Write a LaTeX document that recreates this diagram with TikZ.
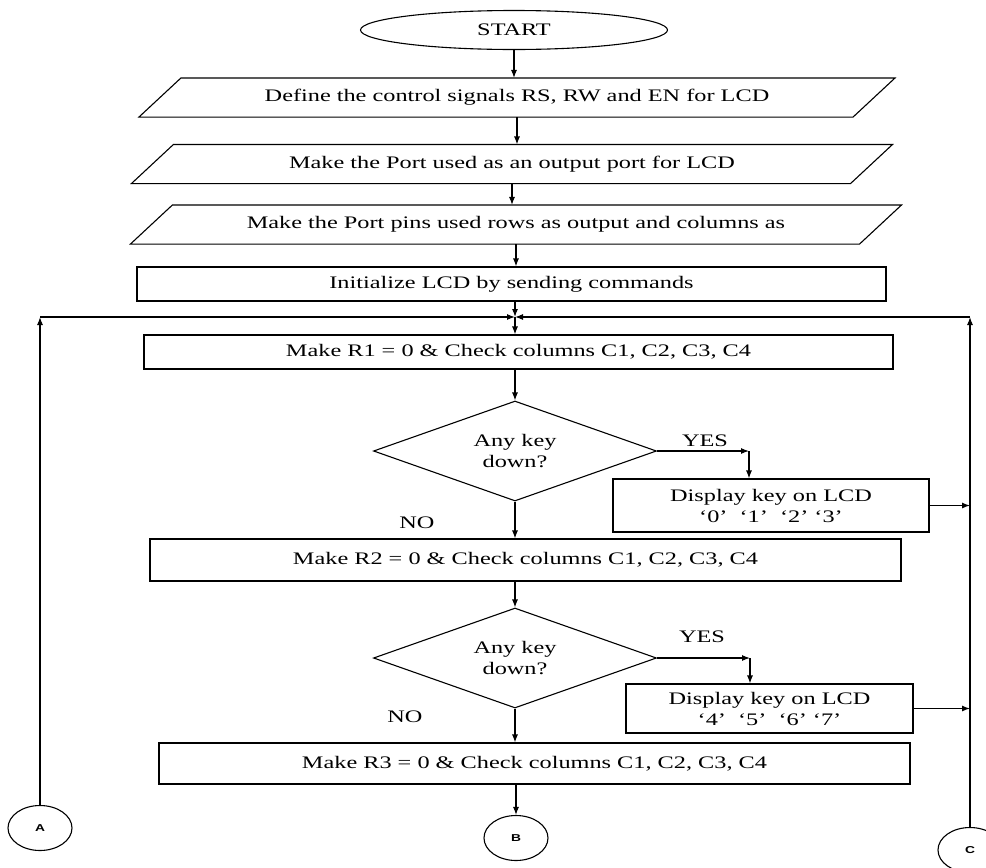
\documentclass[tikz,border=0pt]{standalone}
\usepackage{fontspec}
\setmainfont{Liberation Serif}[FakeStretch=1.38]
\newfontfamily\tagfont{Liberation Sans}[FakeStretch=1.38]
\usetikzlibrary{shapes.geometric,arrows.meta}
\begin{document}
\begin{tikzpicture}[x=1pt,y=-1pt,line width=1.1pt,font=\fontsize{17.6}{21}\selectfont]
	\tikzset{box/.style={draw,inner sep=0pt,align=center},
		io/.style={inner sep=0pt,minimum height=38pt},
		ask/.style={draw,diamond,inner sep=0pt,aspect=2.8,minimum width=283pt,minimum height=100pt,align=center},
		tag/.style={draw,ellipse,inner sep=0pt,minimum width=64pt,minimum height=45pt,font=\tagfont\bfseries\fontsize{10}{11}\selectfont},
		arr/.style={-{Latex[length=8pt,width=6pt]}}}
	\useasboundingbox(0,0)rectangle(986,868);
	\node[draw,ellipse,inner sep=0pt,minimum width=307pt,minimum height=39pt](start)at(514,30){START};
	\node[io,minimum width=713pt](p1)at(517,97.5){Define the control signals RS, RW and EN for LCD};
	\node[io,minimum width=718pt](p2)at(512,164){Make the Port used as an output port for LCD};
	\node[io,minimum width=728pt](p3)at(516,224.5){Make the Port pins used rows as output and columns as};
	\foreach \n in{p1,p2,p3}
	\draw([xshift=-21pt]\n.south west)--([xshift=21pt]\n.north west)--([xshift=21pt]\n.north east)--([xshift=-21pt]\n.south east)--cycle;
	\node[box,minimum width=749pt,minimum height=34pt](init)at(511.5,284){Initialize LCD by sending commands};
	\node[box,minimum width=749pt,minimum height=34pt](r1)at(518.5,352){Make R1 = 0 \& Check columns C1, C2, C3, C4};
	\node[ask](d1)at(515,451){Any key\\down?};
	\node[box,minimum width=316pt,minimum height=53pt](s1)at(771,505.5){Display key on LCD\\‘0’~~‘1’~~‘2’~‘3’};
	\node[box,minimum width=751pt,minimum height=42pt](r2)at(525.5,560){Make R2 = 0 \& Check columns C1, C2, C3, C4};
	\node[ask](d2)at(515,658){Any key\\down?};
	\node[box,minimum width=287pt,minimum height=49pt](s2)at(769.5,708.5){Display key on LCD\\‘4’~~‘5’~~‘6’~‘7’};
	\node[box,minimum width=751pt,minimum height=41pt](r3)at(534.5,763.5){Make R3 = 0 \& Check columns C1, C2, C3, C4};
	\node[tag](A)at(40,828){A};
	\node[tag](B)at(516,838){B};
	\node[tag](C)at(970,850){C};
	\node(y1)at(705,441){YES};
	\node(n1)at(417,523){NO};
	\node(y2)at(702,637){YES};
	\node(n2)at(405,717){NO};
	\coordinate(j)at(515,317);
	\coordinate(k1)at(749,451);
	\coordinate(k2)at(750,658);
	\draw[arr](start)--(start|-p1.north);
	\draw[arr](p1)--(p1|-p2.north);
	\draw[arr](p2)--(p2|-p3.north);
	\draw[arr](p3)--(p3|-init.north);
	\draw[arr](init.south-|j)--(j);
	\draw[arr](j)--(j|-r1.north);
	\draw[arr](A)--(A|-j);
	\draw[arr](A|-j)--(j);
	\draw[arr](C)--(C|-j);
	\draw[arr](C|-j)--(j);
	\draw[arr](r1.south-|d1)--(d1);
	\draw[arr](d1)--(k1);
	\draw[arr](k1)--(k1|-s1.north);
	\draw[arr](s1)--(s1-|C);
	\draw[arr](d1)--(d1|-r2.north);
	\draw[arr](r2.south-|d2)--(d2);
	\draw[arr](d2)--(k2);
	\draw[arr](k2)--(k2|-s2.north);
	\draw[arr](s2)--(s2-|C);
	\draw[arr](d2)--(d2|-r3.north);
	\draw[arr](r3.south-|B)--(B);
\end{tikzpicture}
\end{document}
